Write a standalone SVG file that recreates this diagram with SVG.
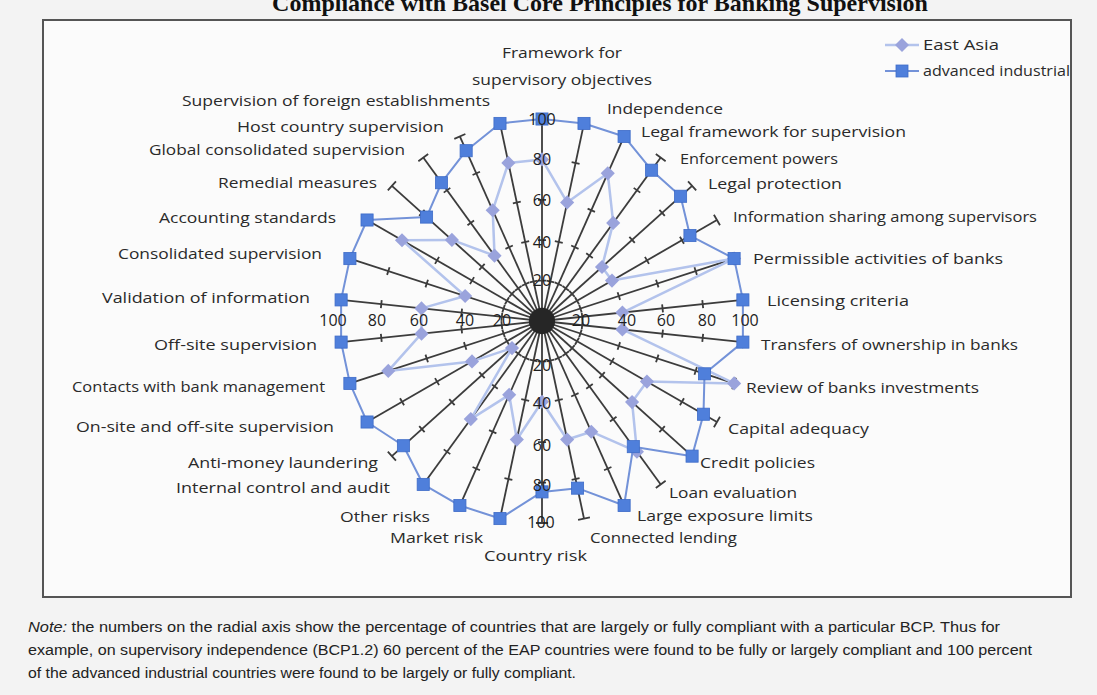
<svg xmlns="http://www.w3.org/2000/svg" xmlns:xlink="http://www.w3.org/1999/xlink" width="1097" height="695" viewBox="0 0 1097 695">
<style>
.lbl{font-family:"Open Sans","Liberation Sans",sans-serif;font-size:15px;fill:#2a2a2a}
.num{font-family:"Open Sans","Liberation Sans",sans-serif;font-size:16px;fill:#1e1e1e;text-anchor:middle}
.note{font-family:"Liberation Sans",sans-serif;font-size:14px;fill:#222}
.ea{fill:none;stroke:#b3c3ec;stroke-width:2.5;stroke-linejoin:round}
.ai{fill:none;stroke:#7392d8;stroke-width:2;stroke-linejoin:round}
.dm{fill:#9aa3dc}
.sq{fill:#4f7fdb;stroke:#3e6cc8;stroke-width:0.8}
</style>
<defs>
<g id="axis" stroke="#3c3c3c" stroke-width="1.8" fill="none"><line x1="0" y1="0" x2="0" y2="-200"/><path d="M-4,-40H4M-4,-80H4M-4,-120H4M-4,-160H4M-6,-200H6"/></g>
<path id="d" d="M0,-7L7,0L0,7L-7,0Z"/>
<rect id="s" x="-6" y="-6" width="12" height="12"/>
</defs>
<rect x="0" y="0" width="1097" height="695" fill="#f3f3f3"/>
<text x="600" y="11" text-anchor="middle" font-family="Liberation Serif,serif" font-weight="bold" font-size="24" fill="#111">Compliance with Basel Core Principles for Banking Supervision</text>
<rect x="43" y="20" width="1028" height="577" fill="#fbfbfb" stroke="#555" stroke-width="2"/>

<g id="chart" transform="translate(542,321) scale(1.01)">
<g id="axes">
<use href="#axis"/><use href="#axis" transform="rotate(12)"/><use href="#axis" transform="rotate(24)"/><use href="#axis" transform="rotate(36)"/><use href="#axis" transform="rotate(48)"/><use href="#axis" transform="rotate(60)"/><use href="#axis" transform="rotate(72)"/><use href="#axis" transform="rotate(84)"/><use href="#axis" transform="rotate(96)"/><use href="#axis" transform="rotate(108)"/><use href="#axis" transform="rotate(120)"/><use href="#axis" transform="rotate(132)"/><use href="#axis" transform="rotate(144)"/><use href="#axis" transform="rotate(156)"/><use href="#axis" transform="rotate(168)"/><use href="#axis" transform="rotate(180)"/><use href="#axis" transform="rotate(192)"/><use href="#axis" transform="rotate(204)"/><use href="#axis" transform="rotate(216)"/><use href="#axis" transform="rotate(228)"/><use href="#axis" transform="rotate(240)"/><use href="#axis" transform="rotate(252)"/><use href="#axis" transform="rotate(264)"/><use href="#axis" transform="rotate(276)"/><use href="#axis" transform="rotate(288)"/><use href="#axis" transform="rotate(300)"/><use href="#axis" transform="rotate(312)"/><use href="#axis" transform="rotate(324)"/><use href="#axis" transform="rotate(336)"/><use href="#axis" transform="rotate(348)"/>
</g>
<circle r="13" fill="#262626"/>
<g id="series-east-asia">
<polygon class="ea" points="0,-160 24.9,-117.4 65.1,-146.2 70.5,-97.1 59.4,-53.5 69.3,-40 190.2,-61.8 79.6,-8.4 79.6,8.4 190.2,61.8 103.9,60 89.2,80.3 94,129.4 48.8,109.6 24.9,117.4 0,80 -24.9,117.4 -32.5,73.1 -70.5,97.1 -29.7,26.8 -69.3,40 -152.2,49.4 -119.3,12.5 -119.3,-12.5 -76.1,-24.7 -138.6,-80 -89.2,-80.3 -47,-64.7 -48.8,-109.6 -33.3,-156.5"/>
<g class="dm">
<use href="#d" x="0" y="-160"/><use href="#d" x="24.9" y="-117.4"/><use href="#d" x="65.1" y="-146.2"/><use href="#d" x="70.5" y="-97.1"/><use href="#d" x="59.4" y="-53.5"/><use href="#d" x="69.3" y="-40"/><use href="#d" x="190.2" y="-61.8"/><use href="#d" x="79.6" y="-8.4"/><use href="#d" x="79.6" y="8.4"/><use href="#d" x="190.2" y="61.8"/><use href="#d" x="103.9" y="60"/><use href="#d" x="89.2" y="80.3"/><use href="#d" x="94" y="129.4"/><use href="#d" x="48.8" y="109.6"/><use href="#d" x="24.9" y="117.4"/><use href="#d" x="0" y="80"/><use href="#d" x="-24.9" y="117.4"/><use href="#d" x="-32.5" y="73.1"/><use href="#d" x="-70.5" y="97.1"/><use href="#d" x="-29.7" y="26.8"/><use href="#d" x="-69.3" y="40"/><use href="#d" x="-152.2" y="49.4"/><use href="#d" x="-119.3" y="12.5"/><use href="#d" x="-119.3" y="-12.5"/><use href="#d" x="-76.1" y="-24.7"/><use href="#d" x="-138.6" y="-80"/><use href="#d" x="-89.2" y="-80.3"/><use href="#d" x="-47" y="-64.7"/><use href="#d" x="-48.8" y="-109.6"/><use href="#d" x="-33.3" y="-156.5"/>
</g>
</g>
<g id="series-advanced-industrial">
<polygon class="ai" points="0,-200 41.6,-195.6 81.3,-182.7 108.5,-149.3 137.2,-123.5 146.5,-84.6 190.2,-61.8 198.9,-20.9 198.9,20.9 160.9,52.3 159.9,92.3 148.6,133.8 90.4,124.4 81.3,182.7 35.2,165.5 0,169.2 -41.6,195.6 -81.3,182.7 -117.6,161.8 -137.2,123.5 -173.2,100 -190.2,61.8 -198.9,20.9 -198.9,-20.9 -190.2,-61.8 -173.2,-100 -114.3,-102.9 -99.5,-136.9 -75.1,-168.6 -41.6,-195.6"/>
<g class="sq">
<use href="#s" x="0" y="-200"/><use href="#s" x="41.6" y="-195.6"/><use href="#s" x="81.3" y="-182.7"/><use href="#s" x="108.5" y="-149.3"/><use href="#s" x="137.2" y="-123.5"/><use href="#s" x="146.5" y="-84.6"/><use href="#s" x="190.2" y="-61.8"/><use href="#s" x="198.9" y="-20.9"/><use href="#s" x="198.9" y="20.9"/><use href="#s" x="160.9" y="52.3"/><use href="#s" x="159.9" y="92.3"/><use href="#s" x="148.6" y="133.8"/><use href="#s" x="90.4" y="124.4"/><use href="#s" x="81.3" y="182.7"/><use href="#s" x="35.2" y="165.5"/><use href="#s" x="0" y="169.2"/><use href="#s" x="-41.6" y="195.6"/><use href="#s" x="-81.3" y="182.7"/><use href="#s" x="-117.6" y="161.8"/><use href="#s" x="-137.2" y="123.5"/><use href="#s" x="-173.2" y="100"/><use href="#s" x="-190.2" y="61.8"/><use href="#s" x="-198.9" y="20.9"/><use href="#s" x="-198.9" y="-20.9"/><use href="#s" x="-190.2" y="-61.8"/><use href="#s" x="-173.2" y="-100"/><use href="#s" x="-114.3" y="-102.9"/><use href="#s" x="-99.5" y="-136.9"/><use href="#s" x="-75.1" y="-168.6"/><use href="#s" x="-41.6" y="-195.6"/>
</g>
</g>
</g>

<g id="scale-labels">
<text class="num" x="542" y="125">100</text><text class="num" x="542" y="165">80</text><text class="num" x="542" y="206">60</text><text class="num" x="542" y="248">40</text><text class="num" x="542" y="286">20</text>
<text class="num" x="542" y="371">20</text><text class="num" x="542" y="409">40</text><text class="num" x="542" y="451">60</text><text class="num" x="542" y="491">80</text><text class="num" x="541" y="528">100</text>
<text class="num" x="333" y="326">100</text><text class="num" x="377" y="326">80</text><text class="num" x="419" y="326">60</text><text class="num" x="465" y="326">40</text><text class="num" x="502" y="326">20</text>
<text class="num" x="581" y="326">20</text><text class="num" x="627" y="326">40</text><text class="num" x="666" y="326">60</text><text class="num" x="707" y="326">80</text><text class="num" x="745" y="326">100</text>
</g>

<g id="axis-labels" class="lbl">
<text x="562" y="58" text-anchor="middle" textLength="120" lengthAdjust="spacingAndGlyphs">Framework for</text>
<text x="562" y="85" text-anchor="middle" textLength="180" lengthAdjust="spacingAndGlyphs">supervisory objectives</text>
<text x="607" y="114" textLength="116" lengthAdjust="spacingAndGlyphs">Independence</text>
<text x="641" y="137" textLength="265" lengthAdjust="spacingAndGlyphs">Legal framework for supervision</text>
<text x="680" y="164" textLength="158" lengthAdjust="spacingAndGlyphs">Enforcement powers</text>
<text x="708" y="189" textLength="134" lengthAdjust="spacingAndGlyphs">Legal protection</text>
<text x="733" y="222" textLength="304" lengthAdjust="spacingAndGlyphs">Information sharing among supervisors</text>
<text x="753" y="264" textLength="250" lengthAdjust="spacingAndGlyphs">Permissible activities of banks</text>
<text x="767" y="306" textLength="142" lengthAdjust="spacingAndGlyphs">Licensing criteria</text>
<text x="761" y="350" textLength="257" lengthAdjust="spacingAndGlyphs">Transfers of ownership in banks</text>
<text x="746" y="393" textLength="233" lengthAdjust="spacingAndGlyphs">Review of banks investments</text>
<text x="728" y="434" textLength="141" lengthAdjust="spacingAndGlyphs">Capital adequacy</text>
<text x="700" y="468" textLength="115" lengthAdjust="spacingAndGlyphs">Credit policies</text>
<text x="669" y="498" textLength="128" lengthAdjust="spacingAndGlyphs">Loan evaluation</text>
<text x="637" y="521" textLength="176" lengthAdjust="spacingAndGlyphs">Large exposure limits</text>
<text x="590" y="543" textLength="147" lengthAdjust="spacingAndGlyphs">Connected lending</text>
<text x="484" y="561" textLength="103" lengthAdjust="spacingAndGlyphs">Country risk</text>
<text x="390" y="543" textLength="93" lengthAdjust="spacingAndGlyphs">Market risk</text>
<text x="340" y="522" textLength="90" lengthAdjust="spacingAndGlyphs">Other risks</text>
<text x="176" y="493" textLength="214" lengthAdjust="spacingAndGlyphs">Internal control and audit</text>
<text x="188" y="468" textLength="190" lengthAdjust="spacingAndGlyphs">Anti-money laundering</text>
<text x="76" y="432" textLength="258" lengthAdjust="spacingAndGlyphs">On-site and off-site supervision</text>
<text x="72" y="392" textLength="253" lengthAdjust="spacingAndGlyphs">Contacts with bank management</text>
<text x="154" y="350" textLength="163" lengthAdjust="spacingAndGlyphs">Off-site supervision</text>
<text x="102" y="303" textLength="208" lengthAdjust="spacingAndGlyphs">Validation of information</text>
<text x="118" y="259" textLength="204" lengthAdjust="spacingAndGlyphs">Consolidated supervision</text>
<text x="159" y="223" textLength="177" lengthAdjust="spacingAndGlyphs">Accounting standards</text>
<text x="218" y="188" textLength="159" lengthAdjust="spacingAndGlyphs">Remedial measures</text>
<text x="149" y="155" textLength="256" lengthAdjust="spacingAndGlyphs">Global consolidated supervision</text>
<text x="237" y="132" textLength="207" lengthAdjust="spacingAndGlyphs">Host country supervision</text>
<text x="182" y="106" textLength="308" lengthAdjust="spacingAndGlyphs">Supervision of foreign establishments</text>
</g>

<g id="legend">
<line x1="885" y1="45" x2="919" y2="45" stroke="#b3c3ec" stroke-width="2.5"/>
<use href="#d" x="902" y="45" class="dm"/>
<text class="lbl" x="923" y="50" textLength="76" lengthAdjust="spacingAndGlyphs">East Asia</text>
<line x1="885" y1="71" x2="919" y2="71" stroke="#7392d8" stroke-width="2"/>
<use href="#s" x="902" y="71" class="sq"/>
<text class="lbl" x="923" y="76" textLength="147" lengthAdjust="spacingAndGlyphs">advanced industrial</text>
</g>

<g id="note" class="note">
<text x="28" y="632" textLength="972" lengthAdjust="spacingAndGlyphs"><tspan font-style="italic">Note:</tspan> the numbers on the radial axis show the percentage of countries that are largely or fully compliant with a particular BCP. Thus for</text>
<text x="28" y="655" textLength="1004" lengthAdjust="spacingAndGlyphs">example, on supervisory independence (BCP1.2) 60 percent of the EAP countries were found to be fully or largely compliant and 100 percent</text>
<text x="28" y="678" textLength="548" lengthAdjust="spacingAndGlyphs">of the advanced industrial countries were found to be largely or fully compliant.</text>
</g>
</svg>
